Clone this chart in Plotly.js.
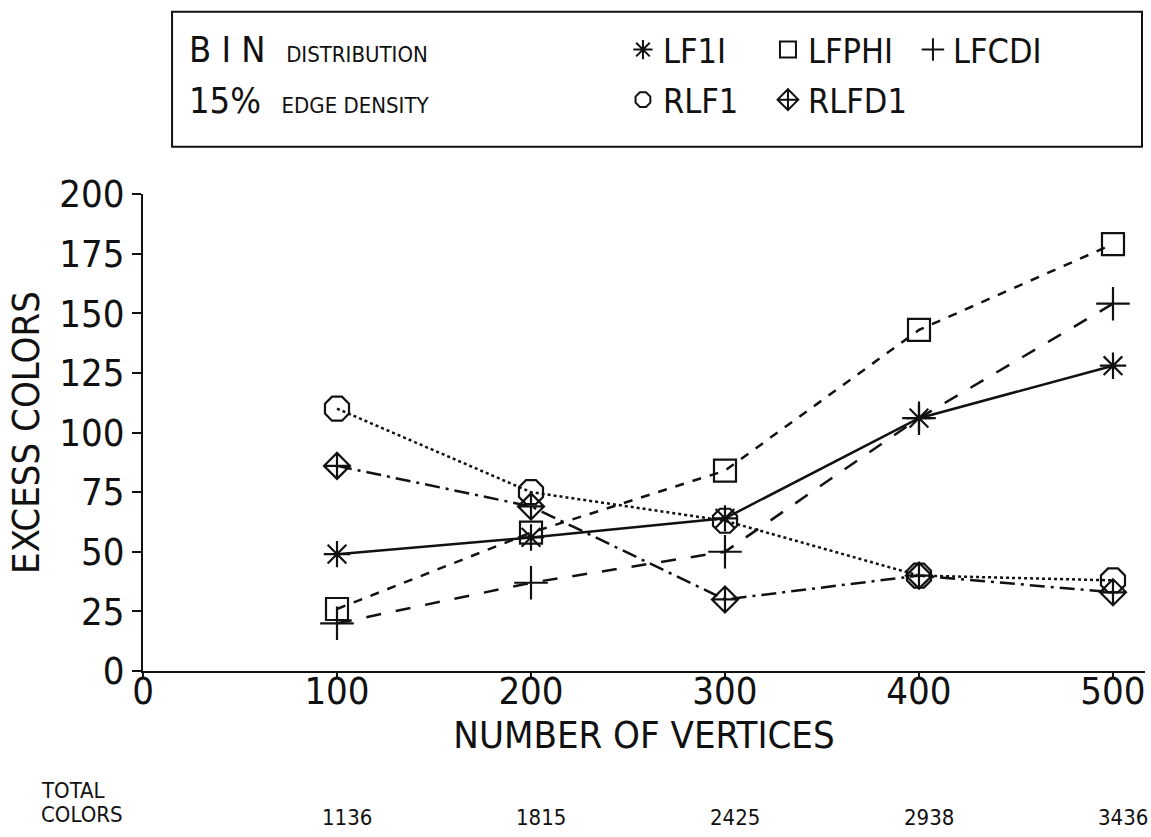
<!DOCTYPE html>
<html>
<head>
<meta charset="utf-8">
<script src="https://cdn.plot.ly/plotly-3.0.1.min.js"></script>
<style>html,body{margin:0;padding:0;background:#fff;}#chart{width:1151px;height:837px;}</style>
</head>
<body>
<div id="chart"></div>
<script>
// ---- data ----
const vertices = [100, 200, 300, 400, 500];
const totalColors = ["1136", "1815", "2425", "2938", "3436"];
const LF1I  = [49, 56, 64, 106, 128];
const LFPHI = [26, 58, 84, 143, 179];
const LFCDI = [20, 37, 50, 106, 154];
const RLF1  = [110, 75, 63, 40, 38];
const RLFD1 = [86, 69, 30, 40, 33];
const seriesNames = ["LF1I", "LFPHI", "LFCDI", "RLF1", "RLFD1"];
const yTicks = [0, 25, 50, 75, 100, 125, 150, 175, 200];
const xTicks = [0, 100, 200, 300, 400, 500];

const FONT = "'DejaVu Sans Condensed', 'Liberation Sans Narrow', sans-serif";
const INK = "#111";

const styles = {
  LF1I:  {dash: "solid",   symbol: "asterisk-open",      size: 22, legend: "legend"},
  LFPHI: {dash: "dash",    symbol: "square-open",        size: 22, legend: "legend"},
  LFCDI: {dash: "longdash",symbol: "cross-thin-open",    size: 24, legend: "legend"},
  RLF1:  {dash: "dot",     symbol: "octagon-open",       size: 26, legend: "legend2"},
  RLFD1: {dash: "longdashdot", symbol: "diamond-cross-open", size: 20, legend: "legend2"}
};
const values = {LF1I, LFPHI, LFCDI, RLF1, RLFD1};

const traces = [];
seriesNames.forEach(name => {
  const s = styles[name];
  traces.push({
    x: vertices, y: values[name], type: "scatter", mode: "lines+markers",
    name: name, showlegend: false,
    line: {color: INK, width: 2.5, dash: s.dash},
    marker: {symbol: s.symbol, size: s.size, color: INK, line: {color: INK, width: 2.2}}
  });
});
// legend entries (markers only)
seriesNames.forEach(name => {
  const s = styles[name];
  traces.push({
    x: [null], y: [null], type: "scatter", mode: "markers", name: name,
    legend: s.legend, showlegend: true,
    marker: {symbol: s.symbol, size: s.size, color: INK, line: {color: INK, width: 2}}
  });
});

const annotations = [
  {xref: "paper", yref: "paper", x: 0.044, y: 1.302, xanchor: "left", yanchor: "middle", showarrow: false,
   text: "B I N  <span style='font-size:22px'>DISTRIBUTION</span>", font: {family: FONT, size: 36, color: INK}},
  {xref: "paper", yref: "paper", x: 0.044, y: 1.197, xanchor: "left", yanchor: "middle", showarrow: false,
   text: "15%  <span style='font-size:22px'>EDGE DENSITY</span>", font: {family: FONT, size: 36, color: INK}},
  {xref: "paper", yref: "paper", x: -0.104, y: -0.2495, xanchor: "left", yanchor: "middle", showarrow: false,
   text: "TOTAL", font: {family: FONT, size: 22, color: INK}},
  {xref: "paper", yref: "paper", x: -0.104, y: -0.300, xanchor: "left", yanchor: "middle", showarrow: false,
   text: "COLORS", font: {family: FONT, size: 22, color: INK}}
];
vertices.forEach((v, i) => {
  annotations.push({xref: "x", yref: "paper", x: v, y: -0.308, xanchor: "center", yanchor: "middle",
    xshift: 10, showarrow: false, text: totalColors[i], font: {family: FONT, size: 22, color: INK}});
});

const layout = {
  width: 1151, height: 837,
  margin: {l: 143, r: 6, t: 194, b: 166, autoexpand: false},
  paper_bgcolor: "#fff", plot_bgcolor: "#fff",
  font: {family: FONT, color: INK},
  xaxis: {
    range: [0, 516.5], tickvals: xTicks, ticktext: xTicks.map(String),
    showgrid: false, zeroline: false, showline: true, linecolor: INK, linewidth: 2,
    ticks: "outside", ticklen: 5, tickwidth: 2, tickcolor: INK, ticklabelstandoff: -20,
    tickfont: {family: FONT, size: 38, color: INK},
    title: {text: "NUMBER OF VERTICES", font: {family: FONT, size: 38, color: INK}, standoff: 0}
  },
  yaxis: {
    range: [0, 200], tickvals: yTicks, ticktext: yTicks.map(String),
    showgrid: false, zeroline: false, showline: true, linecolor: INK, linewidth: 2,
    ticks: "outside", ticklen: 9, tickwidth: 2, tickcolor: INK,
    tickfont: {family: FONT, size: 38, color: INK},
    title: {text: "EXCESS COLORS", font: {family: FONT, size: 38, color: INK}, standoff: 8}
  },
  legend: {
    orientation: "h", x: 0.479, y: 1.302, xanchor: "left", yanchor: "middle",
    font: {family: FONT, size: 34, color: INK}, bgcolor: "rgba(0,0,0,0)",
    entrywidth: 100, entrywidthmode: "pixels", itemwidth: 30, traceorder: "normal"
  },
  legend2: {
    orientation: "h", x: 0.479, y: 1.197, xanchor: "left", yanchor: "middle",
    font: {family: FONT, size: 34, color: INK}, bgcolor: "rgba(0,0,0,0)",
    entrywidth: 100, entrywidthmode: "pixels", itemwidth: 30, traceorder: "normal"
  },
  shapes: [
    {type: "rect", xref: "paper", yref: "paper", x0: 0.029, x1: 0.997, y0: 1.099, y1: 1.382,
     line: {color: INK, width: 2}, fillcolor: "rgba(0,0,0,0)"}
  ],
  annotations: annotations,
  showlegend: true
};

Plotly.newPlot("chart", traces, layout, {displayModeBar: false, staticPlot: true});
</script>
</body>
</html>
